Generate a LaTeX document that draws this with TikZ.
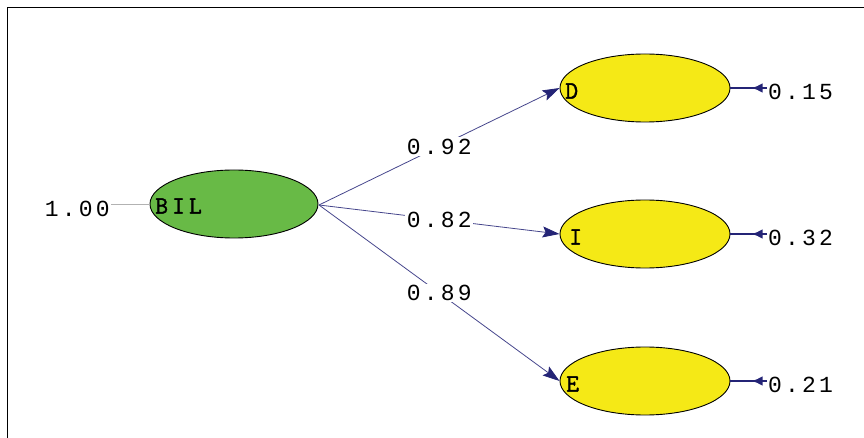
\documentclass[tikz,border=0pt]{standalone}
\usepackage{fontspec}
\usetikzlibrary{arrows.meta,decorations.markings,shapes.geometric}
\definecolor{latgreen}{RGB}{104,186,70}
\definecolor{obsyellow}{RGB}{245,233,22}
\definecolor{pathblue}{RGB}{70,70,140}
\definecolor{tipblue}{RGB}{36,36,118}
\newfontfamily\pathfont[LetterSpace=14]{Liberation Mono}
\newfontfamily\namefont[LetterSpace=16,FakeBold=1.5]{Latin Modern Mono}
\tikzset{
  latent/.style={ellipse,draw=black,line width=0.9pt,fill=latgreen,minimum width=168pt,minimum height=68pt,inner sep=0pt},
  observed/.style={ellipse,draw=black,line width=0.9pt,fill=obsyellow,minimum width=170pt,minimum height=68pt,inner sep=0pt},
  varname/.style={font=\namefont\fontsize{25}{25}\selectfont,inner sep=0pt},
  coef/.style={font=\pathfont\fontsize{23}{23}\selectfont,fill=white,inner sep=1.5pt},
  errval/.style={font=\pathfont\fontsize{23}{23}\selectfont,inner sep=1pt},
  loading/.style={draw=pathblue,line width=0.8pt,-{Stealth[length=17pt,width=11pt,inset=3pt,color=tipblue]}},
  errpath/.style={draw=tipblue,line width=2.2pt,postaction={decorate},
    decoration={markings,mark=at position 0.42 with {\arrow{Latex[length=11pt,width=10pt,color=tipblue]}}}},
}
\begin{document}
\begin{tikzpicture}[x=1pt,y=-1pt]
  \useasboundingbox (0,0) rectangle (864,438);
  % frame: top and left edges
  \draw[line width=1.8pt] (7.5,438) -- (7.5,7.5) -- (864,7.5);

  % latent variable
  \node[latent] (bil) at (234,204) {};
  \node[varname,anchor=west] (bilname) at (155,206) {BIL};
  \node[errval,anchor=east] (bilvar) at (111,209) {1.00};
  \coordinate (bilvarend) at (111,204);
  \draw[gray!60,line width=0.8pt] (bilvarend) -- (bil.west);

  % indicators
  \node[observed] (d) at (645,88) {};
  \node[observed] (i) at (645,234) {};
  \node[observed] (e) at (645,381) {};
  \node[varname,anchor=west] (dname) at (565,91) {D};
  \node[varname,anchor=west] (iname) at (569,237) {I};
  \node[varname,anchor=west] (ename) at (566,384) {E};

  % loadings
  \coordinate (src) at (319,205);
  \draw[loading] (src) -- (d.west) node[coef,midway] (ld) {0.92};
  \draw[loading] (src) -- (i.west) node[coef,midway] (li) {0.82};
  \draw[loading] (src) -- (e.west) node[coef,midway] (le) {0.89};

  % error variances
  \node[errval,anchor=west] (ed) at (767,92) {0.15};
  \node[errval,anchor=west] (ei) at (767,238) {0.32};
  \node[errval,anchor=west] (ee) at (767,385) {0.21};
  \draw[errpath] (ed.west |- d.east) -- (d.east);
  \draw[errpath] (ei.west |- i.east) -- (i.east);
  \draw[errpath] (ee.west |- e.east) -- (e.east);
\end{tikzpicture}
\end{document}
